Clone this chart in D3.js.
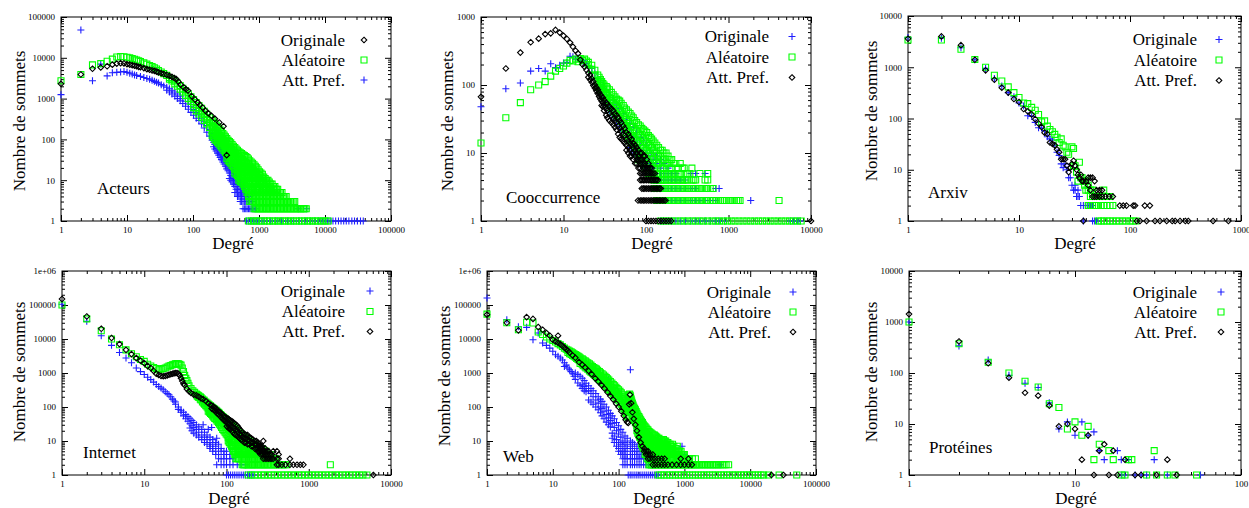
<!DOCTYPE html>
<html><head><meta charset="utf-8">
<script src="https://cdn.jsdelivr.net/npm/d3@7"></script>
<style>
body{margin:0;background:#fff}
svg{display:block}
text{font-family:"Liberation Serif","Times New Roman",serif;fill:#000}
</style></head>
<body><svg id="c" width="1249" height="508"></svg>
<script>
// ---------- labels ----------
const seriesNames = ["Originale", "Aléatoire", "Att. Pref."];
const datasetNames = ["Acteurs", "Cooccurrence", "Arxiv", "Internet", "Web", "Protéines"];
const xLabel = "Degré";
const yLabel = "Nombre de sommets";
const ticksX1 = [1, 10, 100, 1000, 10000, 100000];
const ticksY1 = [1, 10, 100, 1000, 10000, 100000];
const ticksX2 = [1, 10, 100, 1000, 10000];
const ticksY2 = [1, 10, 100, 1000];
const ticksX3 = [1, 10, 100, 1000];
const ticksY3 = [1, 10, 100, 1000, 10000];
const ticksX4 = [1, 10, 100, 1000, 10000];
const ticksY4 = [1, 10, 100, 1000, 10000, 100000, 1000000];
const ticksX5 = [1, 10, 100, 1000, 10000, 100000];
const ticksY5 = [1, 10, 100, 1000, 10000, 100000, 1000000];
const ticksX6 = [1, 10, 100];
const ticksY6 = [1, 10, 100, 1000, 10000];

// ---------- data: rows are [degree, count, count, ...]; "Un" lists = degrees with count 1 ----------
// Acteurs
const acteursOriginale = [[1,2300],[2,3900],[3,5400],[4,5800],[5,6200],[6,6800],[7,7200],[8,7400],[9,7300],[10,7000],[11,6800],[12,6600],[13,6400],[14,6200],[15,6000],[16,5900],[18,5600],[20,5300],[22,5100],[24,4900],[26,4800],[28,4600],[30,4400],[33,4200],[36,4000],[40,3800],[44,3600],[48,3400],[52,3200],[56,3000],[60,2600],[65,2200],[72,1900],[78,1700],[84,1570],[95,1150],[107,950],[118,800],[127,700],[140,600],[155,500],[170,440],[190,380],[215,320],[250,260],[290,210],[324,41]];
const acteursAleatoire = [[1,2750],[2,3900],[3,6700],[4,7200],[5,8200],[6,9300],[7,10500],[8,10800],[9,10600],[10,10300],[11,10000],[12,9600],[13,9200],[14,8800],[15,8400],[16,8100],[18,7500],[20,7000],[22,6500],[24,6100],[26,5700],[28,5300],[30,4900],[33,4500],[36,4100],[40,3700],[44,3300,3000],[48,3000,2700],[53,2700,2300],[58,2400,2000],[64,2100,1700],[70,1800,1450],[77,1550,1200],[85,1300,1000],[93,1100,850],[102,950,720,600],[112,800,600,500],[123,680,520,420],[135,580,440,350],[148,490,370,290],[162,410,310,240],[178,340,260,195],[195,290,215,160,125],[214,245,180,135,100],[235,205,150,110,85],[258,170,125,92,70],[283,140,105,78,58],[310,115,88,65,48],[340,95,74,55,40,30],[373,82,62,46,34,26],[410,68,52,38,28,21],[450,58,44,32,24,18,14],[495,50,38,28,21,16,12,10],[545,45,33,25,19,14,11,9],[600,40,29,22,17,13,10,8,7],[660,36,26,20,15,12,9,7,6,5],[725,30,22,17,13,10,8,6,5,4,3],[800,26,19,15,11,9,7,6,5,4,3],[880,22,16,13,10,8,6,5,4,3,2],[970,18,14,11,9,7,6,5,4,3,2],[1070,15,12,9,8,6,5,4,3,2],[1180,12,10,8,7,6,5,4,3,2],[1300,10,8,7,6,5,4,3,2],[1430,9,7,6,5,4,3,2],[1580,8,6,5,4,3,2],[1740,7,6,5,4,3,2],[1920,6,5,4,3,2],[2120,5,4,3,2],[2340,4,3,2],[2580,4,3,2],[2850,3,2],[3150,3,2],[3480,3,2],[3850,2],[4250,2],[4700,2],[5200,2],
  [204,265,195,148,112],[224,225,165,122,92],[246,188,138,100,78],[270,155,115,85,64],[296,128,96,72,53],[325,105,80,60,44,34],[356,88,68,50,37,28],[391,75,57,42,31,23],[430,63,48,35,26,19,15],[472,54,41,30,22,17,13],[520,47,35,26,20,15,11,9],[572,42,31,23,18,13,10,8],[630,38,27,21,16,12,9,7,6],[692,33,24,18,14,11,8,6,5,4],[762,28,20,16,12,9,7,6,5,4,3],[840,24,17,14,11,8,7,5,4,3,2],[925,20,15,12,9,7,6,5,4,3,2],[1020,16,13,10,8,7,5,4,3,2],[1125,14,11,9,7,6,5,4,3,2],[1240,11,9,7,6,5,4,3,2],[1365,10,8,6,5,4,3,2],[1505,8,7,6,5,4,3,2],[1660,7,6,5,4,3,2],[1830,6,5,4,3,2],[2020,5,4,3,2],[2230,5,4,3,2],[2460,4,3,2],[2710,3,2],[3000,3,2],[3300,3,2],[3650,2],[4050,2],[4470,2],[4950,2]];
const acteursAleatoireUn = [690,760,830,910,1000,1100,1200,1320,1450,1600,1750,1920,2100,2300,2550,2800,3050,3350,3700,4050,4450,4900,5400,5900,6500,7100,7800,8600,9400,10300,11200];
const acteursAttPref = [[1,1250],[2,48000],[3,2750],[4,7000],[5,3600],[6,4300],[7,4400],[8,4500],[9,4600],[10,4400],[11,4200],[12,4000],[13,3800],[14,3700],[16,3500],[18,3300],[20,3100],[22,3000],[24,2800],[26,2650],[28,2500],[30,2400],[33,2200],[36,2050],[40,1900,1600],[44,1750,1450],[48,1600,1300],[53,1450,1150],[58,1300,1000],[64,1150,880],[70,1000,760],[77,860,650],[85,740,550],[93,630,460],[102,540,390],[112,460,330],[123,400,290],[135,330,240],[148,270,190],[162,220,150],[178,175,120],[195,140,95],[214,110,75,58],[235,88,60,46],[258,70,48,36],[283,56,38,28],[310,44,30,22],[340,35,24,17],[373,28,19,13,10],[410,22,15,11,8],[450,16,11,8,6,5],[495,12,9,7,5,4],[545,9,7,5,4,3],[600,7,5,4,3,2],[660,5,4,3,2],[725,4,3,2],[800,3,2],[880,2],[3950,2],[5250,2],
  [205,125,85,66],[224,100,68,52],[246,80,54,41],[270,63,43,32],[296,50,34,25],[325,40,27,19],[356,32,21,15,11],[391,25,17,12,9],[430,19,13,10,7,5],[472,14,10,8,6,4],[520,11,8,6,5,4,3],[572,8,6,5,4,3,2],[630,6,5,4,3,2],[692,5,4,3,2],[762,3,2],[840,2]];
const acteursAttPrefUn = [650,700,750,810,870,940,1010,1150,1300,1500,1800,2200,2700,3300,4000,5000,6000,7000,8000,9000,10000,11000,12000,13200,14500,16000,17500,19200,21000,23000,25500,28000,31000,34500,38000];

// Cooccurrence
const coocOriginale = [[1,48],[2,88],[3,107],[4,160],[5,175],[6,160],[7,205],[8,180],[9,195],[10,210],[11,215],[12,265],[13,260],[14,240],[15,250],[16,230],[17,225],[18,210],[19,205],[20,190],[22,175,150],[24,150,125],[26,125,100],[28,110,85],[30,95,72],[33,82,60,50],[36,70,52,42],[40,60,45,35],[44,52,38,30],[48,45,32,25],[53,38,28,21],[58,32,24,18],[64,27,20,15,12],[70,24,17,13,10],[77,20,15,11,9],[85,17,13,10,8],[93,15,11,8,7,6],[102,13,10,8,6,5],[112,11,9,7,5],[122,10,8,6,5,4],[135,9,7,5,4,3,2],[150,8,6,5,4,3,2],[165,7,5,4,3,2],[185,6,5,4,3,2],[205,5,4,3,2],[230,5,4,3,2],[260,4,3,2],[300,4,3,2],[350,5,3,2],[400,5,3,2],[450,2],[520,5,2],[600,2],[700,3,2],[770,3],[1860,2]];
const coocOriginaleUn = [150,165,185,205,230,260,300,350,400,450,520,600,700,770,900,5600,6200,6900,7400];
const coocAleatoire = [[1,14],[2,33],[3,55],[4,85],[5,100],[6,112],[7,135],[8,160],[9,175],[10,190],[11,210],[12,230],[13,225],[14,240],[15,220],[16,245],[17,230],[18,240],[19,225],[20,215,200],[22,195,170],[24,165,140],[26,140,115],[28,120,100,85],[30,105,85,72],[33,95,75,60],[36,85,65,50],[40,72,55,42],[44,62,48,36],[48,58,42,32],[53,50,36,27],[58,43,31,23,18],[64,38,27,20,15],[70,33,24,17,13],[77,28,21,15,11],[85,25,18,13,10,8],[93,22,16,12,9,7],[102,20,14,11,8,6],[112,17,13,10,7,5],[122,15,11,8,6,5,4],[135,13,10,7,5,4,3,2],[150,11,9,6,5,4,3,2],[165,10,8,6,5,4,3,2],[185,9,7,5,4,3,2],[205,8,6,5,4,3,2],[230,7,5,4,3,2],[260,7,5,4,3,2],[290,6,4,3,2],[320,5,4,3,2],[360,6,4,3,2],[400,4,3,2],[450,5,3,2],[520,4,3,2],[560,5,4,3,2],[650,3,2],[750,2],[850,2],[950,2],[1100,2],[1250,2],[1380,2],[4100,2],
  [27,130,108,92],[29,112,92,78],[31,100,80,66],[34,90,70,55],[38,78,60,46],[42,67,51,39],[46,60,45,34],[50,54,39,29],[55,46,33,25,20],[61,40,29,21,16],[67,35,25,18,14],[73,30,22,16,12],[81,26,19,14,10,8],[89,23,17,12,9,7],[97,21,15,11,8,6],[107,18,13,10,7,5],[117,16,12,9,6,5],[128,14,10,8,6,4,3],[142,12,9,7,5,4,3,2],[157,11,8,6,5,4,3,2],[175,10,7,5,4,3,2],[195,8,6,5,4,3,2],[217,7,5,4,3,2],[245,6,5,4,3,2],[275,6,4,3,2],[305,5,4,3,2],[340,5,3,2],[380,4,3,2],[425,3,2],[480,3,2],[540,3,2],[600,3,2],[700,2],[800,2],[900,2],[1020,2],[1170,2],[1310,2]];
const coocAleatoireUn = [150,165,185,205,230,260,290,320,360,400,450,500,560,630,700,780,870,970,1080,1200,1340,1500,1670,1860,2080,2320,2580,2880,3200,3570,3980,4430,4940,5500,6130,6830,7600];
const coocAttPref = [[1,67],[2,175],[3,300],[4,425],[5,480],[6,560],[7,575],[8,645],[9,590],[10,530],[11,475],[12,420],[13,365],[14,320],[15,290],[16,235],[17,200],[18,185],[19,166],[20,150,130],[22,125,110],[24,100,90],[26,85,75],[28,72,62],[30,65,55,48],[33,55,45,36],[36,48,38,30],[40,42,32,26],[44,36,28,22],[48,30,23,17],[53,25,19,15],[58,20,16,13,11],[64,17,14,11,9],[70,14,12,10,8],[77,12,10,8,7],[80,2],[85,10,8,7,6,5,4,2],[93,9,7,6,5,4,3,2],[102,8,6,5,4,3,2],[112,6,5,4,3,2],[122,5,4,3,2],[133,4,3,2],[145,3,2],[158,2],[172,2],
  [21,140,120],[23,112,98],[25,92,82],[27,78,68],[29,68,58,50],[31,60,50,42],[34,52,42,33],[38,45,35,28],[42,38,30,24],[46,33,25,19],[50,28,21,16],[55,23,18,14],[61,19,15,12,10],[67,16,13,10,9],[74,13,11,9,7],[81,11,9,8,6],[89,10,8,7,5,4,3,2],[97,9,7,6,5,4,3,2],[107,7,6,5,4,3,2],[117,6,5,4,3,2],[128,5,4,3,2],[139,4,3,2],[151,3,2],[165,2]];
const coocAttPrefUn = [100,107,115,123,132,142,152,163,175,188,202,10000];

// Arxiv
const arxivOriginale = [[1,3800],[2,3700],[3,2400],[4,1400],[5,950],[6,600],[7,430],[8,320],[9,265],[10,200],[11,175],[12,113],[13,110],[14,84],[15,66],[16,65],[17,58],[18,44],[19,40],[20,38],[21,30],[22,22],[23,19],[24,13],[25,11],[26,13],[27,10],[28,7],[29,7],[30,5],[31,4],[32,5,4],[33,3],[34,4,3],[35,3],[36,2],[38,2,1],[40,2],[42,2],[44,2],[46,2,1],[48,1],[50,1]];
const arxivAleatoire = [[1,3400],[2,3400],[3,2250],[4,1420],[5,1000],[6,700],[7,540],[8,415],[9,320],[10,257],[11,200],[12,195],[13,165],[14,145],[15,120],[16,86],[17,90],[18,71],[19,61],[20,55],[21,49],[22,43],[23,34],[24,40],[25,30],[26,28],[27,22],[28,20],[30,28],[31,26,12],[32,12],[33,9],[34,6],[35,14],[36,7],[37,7],[38,6],[39,5],[40,6,4],[42,5,4,2],[44,4,3,2],[46,4,3,2],[48,3,2],[50,3,2],[52,3,2,1],[55,3,2,1],[58,4,3,2,1],[62,3,2,1],[66,3,2,1],[70,2,1],[75,1],[80,1],[86,1],[92,1],[100,1],[106,1],[113,1]];
const arxivAttPref = [[1,3600],[2,4000],[3,2700],[4,1400],[5,870],[6,570],[7,400],[8,320],[9,240],[10,210],[11,153],[12,138],[13,120],[14,97],[15,80],[16,68],[17,53],[18,50],[19,34],[20,32],[21,30],[22,25],[23,22],[24,16],[25,16],[26,16],[27,12],[28,9],[29,11],[30,13],[31,15],[32,12],[33,10],[34,8],[35,7],[36,8],[37,6],[38,6,1],[40,6],[42,7,5],[44,7,4],[46,7,3],[48,6,3],[50,4,3],[53,4,3],[56,4,3],[60,3],[65,3],[70,3],[81,2],[87,2],[93,2],[107,2],[111,2],[136,2],[151,2],[115,1],[123,1],[141,1],[168,1],[186,1],[214,1],[240,1],[255,1],[282,1],[315,1],[335,1],[560,1],[770,1]];

// Internet
const internetOriginale = [[1,105000],[2,33000],[3,12500],[4,6500],[5,4000],[6,2750],[7,2000],[8,1400],[9,1100],[10,900],[11,750],[12,640],[13,540],[14,460],[15,400],[16,360],[17,320],[18,280],[19,250],[20,230],[21,200],[22,170],[23,150],[24,140,120],[26,100,85],[28,80,70],[30,70,55],[32,60,45],[34,52,38],[36,45,32,24],[38,40,28,20],[40,35,25,17],[43,30,22,15],[46,26,18,13],[50,22,15,11],[52,30],[54,18,13,9],[58,15,11,8],[60,22],[63,13,9,7,6],[66,25],[68,11,8,6,5],[74,9,7,5,4],[76,12,2],[80,8,6,4,3],[86,6,5,3,2],[93,5,4,3,2],[100,5,4,3,2],[110,4,3,2],[120,3,2],[135,2],[150,2],[170,2]];
const internetOriginaleUn = [100,106,112,119,126,134,142,151,160,170,180,190,200,210];
const internetAleatoire = [[1,100000],[2,39000],[3,17500],[4,10000],[5,6800],[6,4800],[7,3700],[8,3000],[9,2500],[10,2200],[11,1800],[12,1600],[13,1450],[14,1350],[15,1250],[16,1300],[17,1350],[18,1400],[19,1500],[20,1600],[21,1650],[22,1750],[23,1800],[24,1850],[25,1900],[26,1850],[27,1800],[28,1700],[29,1400],[30,1100],[31,850],[32,700],[33,600],[34,500],[35,420],[37,350],[39,300],[41,270],[43,240],[45,220,200],[48,200,170],[51,170,140],[54,150,120],[58,130,100],[62,115,85,70],[66,100,75,60],[70,90,65,50],[75,80,55,42],[80,70,48,35],[85,60,40,28],[90,52,35,22],[96,45,30,18],[102,40,26,15],[108,35,22,12,9],[115,30,19,10,7],[122,26,16,9,6,5],[130,22,14,8,6,5,4,3],[140,19,12,8,6,5,4,3],[150,16,10,7,5,4,3],[160,14,9,7,5,4,3,2],[172,12,8,6,5,4,3,2],[185,10,8,6,5,4,3,2],[200,9,7,6,5,4,3,2],[215,8,6,5,4,3,2],[230,7,6,5,4,3,2],[250,6,5,4,3,2],[270,6,5,4,3,2],[290,5,4,3,2],[315,4,3,2],[340,4,3,2],[370,3,2],[400,3,2],[440,2],[490,2],[540,2],[1830,2],
  [44,230,210],[46,215,190],[49,190,160],[53,160,130],[56,140,110],[60,122,92,75],[64,108,80,65],[68,95,70,55],[72,85,60,46],[77,75,52,38],[82,65,44,31],[87,56,38,25],[93,48,32,20],[99,42,28,16],[105,37,24,13,10],[111,32,20,11,8],[118,28,17,10,7,6],[126,24,15,9,7,5,4],[135,20,13,8,6,5,4,3],[145,17,11,7,5,4,3],[155,15,10,7,5,4,3,2],[166,13,9,6,5,4,3,2],[178,11,8,6,5,4,3,2],[192,10,7,6,5,4,3,2],[207,8,7,5,4,3,2],[222,8,6,5,4,3,2],[240,7,5,4,3,2],[260,6,5,4,3,2],[280,5,4,3,2],[302,5,4,3,2],[327,4,3,2],[355,3,2],[385,3,2],[420,2],[465,2],[515,2]];
const internetAleatoireUn = [183,200,220,240,265,290,320,350,385,420,465,510,560,615,680,750,820,900,990,1090,1200,1320,1450,1600,1760,1930,2120,2330,2570,2830,3110,3420,3760,4140,4550,5100];
const internetAttPref = [[1,150000],[2,46000],[3,20000],[4,10700],[5,7100],[6,4800],[7,3600],[8,2750],[9,2300],[10,1950],[11,1600],[12,1400],[13,1150],[14,950],[15,880],[16,820],[17,800],[18,820],[19,850],[20,890],[21,920],[22,950],[23,980],[24,1000],[25,1000],[26,950],[27,850],[28,700],[29,580],[30,480],[31,440],[33,340],[35,290],[37,260],[40,230],[43,220],[46,200],[49,180],[52,170],[56,150],[60,130],[64,115],[69,104,85],[74,90,72],[80,75,60],[86,65,50],[92,55,42],[98,50,37],[105,45,32,25],[112,40,28,22],[120,36,25,18],[130,30,21,15],[140,25,18,13],[150,20,15,11],[165,16,12,9],[180,15,11,8],[200,12,9,7],[220,10,8,6],[240,9,7,6,5],[260,7,6,5,4],[280,10,5,4,3],[310,5,4,3],[340,4,3],[370,5,3],[410,5,3,2],[430,4,3,2],[470,2],[520,2],[590,3,2],[650,2],[720,2],[790,2],[860,2],[6100,1],
  [66,110,90],[72,95,78],[77,82,65],[83,70,55],[89,60,46],[95,52,40],[101,47,34,27],[108,42,30,23],[116,38,26,20],[125,33,23,16],[135,28,20,14],[145,22,16,12],[157,18,13,10],[172,15,12,9],[190,13,10,8],[210,11,9,7],[230,10,8,6],[250,8,7,5],[270,7,6,5,4],[295,6,5,4,3],[325,5,4,3],[355,4,3]];

// Web
const webOriginale = [[1,160000],[2,37000],[3,23000],[4,22000],[5,9500],[6,15000],[7,7600],[8,6500],[9,5400],[10,4350],[11,3450],[12,3100],[13,2750],[14,2400],[15,1550,2000],[16,1700],[17,1400],[18,1250],[19,1100],[20,950],[21,800],[22,1000,650],[24,510,900],[26,800,420],[28,700,450,350],[30,600,400,300],[32,500,350,280],[35,420,300,160],[38,350,250,140],[41,300,200,120],[45,250,160,100],[49,200,130,83],[53,170,100,68],[56,146,90,55],[60,120,75,45],[65,100,60,36],[70,640,80,48,30],[75,65,40,26],[80,55,33,17,12],[86,45,25,14,9],[93,35,20,11,7],[100,28,16,9,6,5],[108,22,13,8,5,4],[116,18,10,7,5,4,3,2],[125,14,9,6,5,4,3,2],[135,12,8,6,4,3,2],[151,1250,10,7,5,4,3,2],[162,9,6,4,3,2],[175,8,5,4,3,2],[190,7,5,4,3,2],[205,6,4,3,2],[220,5,4,3,2],[240,5,3,2],[260,4,3,2],[285,4,3,2],[310,3,2],[330,2],[510,9],[560,6],[920,7],[1000,4],[3500,2]];
const webOriginaleUn = [140,150,160,172,185,198,212,228,245,263,282,303,325,349,375,400];
const webAleatoire = [[1,54000],[2,30000],[3,18700],[4,31000],[5,29500],[6,16000],[7,13500],[8,11500],[9,10000],[10,9000],[11,8200],[12,7300],[13,6700],[14,6000],[15,5400],[16,5000],[17,4700,4000],[19,4200,3500],[21,3700,3100],[23,3300,2700],[25,3000,2400],[28,2600,2100,1800],[31,2300,1800,1500],[34,2000,1600,1300],[38,1700,1350,1050],[42,1450,1150,900],[46,1300,1000,780],[51,1100,850,650],[56,950,720,540],[62,800,600,450],[68,680,500,370],[75,560,410,300],[83,460,340,240],[91,380,280,195],[100,320,230,160],[110,260,180,120],[120,200,140,90],[128,160,110,70],[135,120,80,55],[140,100,70,50],[145,230,150,100],[150,220,140,90],[155,170,120,80],[162,130,90,60],[170,100,70,45],[180,83,55,35],[190,65,45,28,20],[203,52,35,22,15],[216,42,28,18,12],[230,35,23,15,10,7],[245,28,19,12,8,6],[262,24,16,10,7,5,4],[280,21,14,9,6,5,4,3],[300,18,12,8,6,5,4,3,2],[325,16,11,8,6,5,4,3,2],[350,15,10,7,6,5,4,3,2],[380,13,9,7,5,4,3,2],[410,12,9,7,5,4,3,2],[445,11,8,6,5,4,3,2],[480,11,8,6,5,4,3,2],[520,10,8,6,5,4,3,2],[560,9,7,6,5,4,3,2],[610,8,7,6,5,4,3,2],[660,8,6,5,4,3,2],[720,6,5,4,3,2],[780,7,5,4,3,2],[850,5,4,3,2],[930,4,3,2],[1000,4,3,2],[1100,3,2],[1200,3,2],[1320,3,2],[1470,3,2],[1600,2],[1800,2],[2000,2],[2250,2],[2500,2],[2800,2],[3100,2],[3500,2],[4000,2],[4700,2],
  [18,4400,3700],[20,3900,3300],[22,3500,2900],[24,3150,2550],[26,2800,2250,1900],[29,2450,1950,1650],[32,2150,1700,1400],[36,1850,1450,1150],[40,1550,1250,980],[44,1380,1080,840],[48,1200,920,720],[53,1020,780,600],[59,870,660,500],[65,740,550,410],[71,620,450,330],[79,510,370,270],[87,420,310,215],[95,350,250,175],[105,290,205,140],[115,230,160,105],[124,180,125,80],[131,140,95,62],[138,110,75,52],[143,160,110,75],[147,240,160,110],[152,200,130,85],[158,150,105,70],[166,115,80,52],[175,92,62,40],[185,74,50,32],[196,58,40,25,17],[209,47,32,20,13],[223,38,25,16,11,8],[237,31,21,14,9,6],[253,26,17,11,8,6,4],[271,22,15,10,7,5,4,3],[290,19,13,9,7,5,4,3,2],[312,17,12,8,6,5,4,3,2],[337,15,10,7,6,5,4,3,2],[365,14,10,7,5,4,3,2],[395,12,9,6,5,4,3,2],[427,11,8,6,5,4,3,2],[462,10,8,6,5,4,3,2],[500,10,7,6,5,4,3,2],[540,9,7,5,4,3,2],[585,8,6,5,4,3,2],[635,7,6,5,4,3,2],[690,7,5,4,3,2],[750,6,5,4,3,2],[815,5,4,3,2],[890,5,4,3,2],[965,4,3,2],[1050,3,2],[1150,3,2],[1260,2],[1400,2],[1530,2],[1700,2],[1900,2],[2120,2],[2370,2],[2650,2],[2950,2],[3300,2],[3750,2],[4300,2]];
const webAleatoireUn = [400,440,490,540,600,660,730,810,890,990,1090,1200,1330,1470,1620,1790,1980,2190,2420,2670,2950,3260,3600,3980,4400,4860,5370,5930,6550,7240,8000,8840,9770,10800,11900,13200,14600,16000,19000,27500,51000];
const webAttPref = [[1,52000],[2,30000],[3,18000],[4,44000],[5,39000],[6,22500],[7,18700],[8,15000],[9,12500],[10,9500],[11,8500],[12,12500,7800],[13,7000],[14,6300],[15,5600],[16,5000],[17,4500],[18,4000],[20,3300],[22,2800],[25,2100],[28,1750],[31,1450],[35,1150],[39,920],[44,700],[49,560],[55,440],[61,350],[68,270],[75,210],[83,165],[92,125],[100,100],[110,75],[120,55],[128,42],[135,36],[140,34],[145,120],[149,230],[155,130],[162,70],[170,45],[180,30],[190,20],[203,13],[216,9],[230,7],[245,6,5],[262,5,4],[280,5,4,3],[300,4,3],[330,4,3,2],[360,3,2],[400,3,2],[450,3,2],[500,3,2],[560,2],[650,2],[760,2],[880,3,2],[1000,2],[1150,3,2],[1300,2],[21000,1],[32000,1]];

// Protéines
const protOriginale = [[1,1000],[2,340],[3,180],[4,90],[5,63],[6,52],[7,26],[8,8],[9,11],[10,6],[11,11],[12,6],[13,7],[14,3],[15,2],[18,3],[19,2,1],[20,1],[21,2],[23,1],[25,1],[27,1],[30,2],[36,1],[57,1]];
const protAleatoire = [[1,1000],[2,375],[3,163],[4,100],[5,69],[6,53],[7,25],[8,21],[9,8],[10,11],[11,6],[12,9],[13,2],[14,4],[16,3],[17,2],[19,1],[20,1],[21,2],[22,2],[27,1],[30,3],[31,1],[36,1],[40,1],[54,1]];
const protAttPref = [[1,1430],[2,415],[3,155],[4,81],[5,41],[6,36],[7,23],[8,9],[9,10],[10,8],[11,2],[12,6],[13,1],[14,3],[15,4],[16,1],[17,3],[18,1],[20,2],[23,1],[25,1],[31,1],[36,2],[41,1]];

// ---------- helpers ----------
function expand(rows, ones) {
  const pts = [];
  rows.forEach(r => { for (let i = 1; i < r.length; i++) pts.push([r[0], r[i]]); });
  (ones || []).forEach(d => pts.push([d, 1]));
  return pts;
}
const STY = {
  plus: {color: "#1f1fff"},
  square: {color: "#00ff00"},
  diamond: {color: "#000000"}
};
function symPath(t, px, py) {
  if (t === "plus") return `M${px-3.5},${py}H${px+3.5}M${px},${py-3.5}V${py+3.5}`;
  if (t === "square") return `M${px-3},${py-3}H${px+3}V${py+3}H${px-3}Z`;
  return `M${px},${py-2.8}L${px+2.8},${py}L${px},${py+2.8}L${px-2.8},${py}Z`;
}

const panels = [
  {name: datasetNames[0], l:61, r:391, t:17, b:221, xt:ticksX1, yt:ticksY1,
   series:[{data:expand(acteursAttPref, acteursAttPrefUn), sym:"plus", leg:2},
           {data:expand(acteursAleatoire, acteursAleatoireUn), sym:"square", leg:1},
           {data:expand(acteursOriginale), sym:"diamond", leg:0}],
   legR:345, legM:364, legY:[45.5,65.5,85.5], nameX:97, nameY:194, ylx:25, yly:121, xlx:233, xly:249},
  {name: datasetNames[1], l:481, r:811, t:17, b:221, xt:ticksX2, yt:ticksY2,
   series:[{data:expand(coocOriginale, coocOriginaleUn), sym:"plus", leg:0},
           {data:expand(coocAleatoire, coocAleatoireUn), sym:"square", leg:1},
           {data:expand(coocAttPref, coocAttPrefUn), sym:"diamond", leg:2}],
   legR:769, legM:792, legY:[42,62.5,83], nameX:506, nameY:203, ylx:453, yly:121, xlx:652, xly:249},
  {name: datasetNames[2], l:908, r:1241, t:16, b:221, xt:ticksX3, yt:ticksY3,
   series:[{data:expand(arxivOriginale), sym:"plus", leg:0},
           {data:expand(arxivAleatoire), sym:"square", leg:1},
           {data:expand(arxivAttPref), sym:"diamond", leg:2}],
   legR:1197, legM:1219, legY:[45,65.5,86], nameX:928, nameY:198, ylx:877, yly:111, xlx:1075, xly:249},
  {name: datasetNames[3], l:62, r:391, t:271, b:475, xt:ticksX4, yt:ticksY4,
   series:[{data:expand(internetOriginale, internetOriginaleUn), sym:"plus", leg:0},
           {data:expand(internetAleatoire, internetAleatoireUn), sym:"square", leg:1},
           {data:expand(internetAttPref), sym:"diamond", leg:2}],
   legR:345, legM:370, legY:[296.5,317,337], nameX:83, nameY:458, ylx:25, yly:372, xlx:229, xly:504},
  {name: datasetNames[4], l:487, r:816, t:271, b:475, xt:ticksX5, yt:ticksY5,
   series:[{data:expand(webOriginale, webOriginaleUn), sym:"plus", leg:0},
           {data:expand(webAleatoire, webAleatoireUn), sym:"square", leg:1},
           {data:expand(webAttPref), sym:"diamond", leg:2}],
   legR:771, legM:793, legY:[297.5,317.5,337.5], nameX:503, nameY:462, ylx:450, yly:376, xlx:654, xly:504},
  {name: datasetNames[5], l:909, r:1241, t:271, b:475, xt:ticksX6, yt:ticksY6,
   series:[{data:expand(protOriginale), sym:"plus", leg:0},
           {data:expand(protAleatoire), sym:"square", leg:1},
           {data:expand(protAttPref), sym:"diamond", leg:2}],
   legR:1197, legM:1221, legY:[297.5,317.5,337.5], nameX:929, nameY:453, ylx:877, yly:372, xlx:1076, xly:504}
];

const svg = d3.select("#c");
const fmt = v => v >= 1e6 ? "1e+06" : d3.format("d")(v);

function minors(ticks) {
  const out = [];
  for (let i = 0; i < ticks.length - 1; i++)
    for (let m = 2; m <= 9; m++) out.push(ticks[i] * m);
  return out;
}

panels.forEach(p => {
  const g = svg.append("g");
  const xd = [p.xt[0], p.xt[p.xt.length-1]];
  const yd = [p.yt[0], p.yt[p.yt.length-1]];
  const x = d3.scaleLog().domain(xd).range([p.l, p.r]);
  const y = d3.scaleLog().domain(yd).range([p.b, p.t]);

  const addAxis = (axis, tx, ty) => {
    const a = g.append("g").attr("transform", `translate(${tx},${ty})`).call(axis);
    a.select(".domain").remove();
    a.selectAll("line").attr("stroke", "#000").attr("stroke-width", 1);
    a.selectAll("text").attr("font-family", '"Liberation Serif",serif').attr("font-size", 9).attr("fill", "#000");
    return a;
  };
  addAxis(d3.axisBottom(x).tickValues(p.xt).tickSize(-6).tickPadding(6).tickFormat(fmt), 0, p.b);
  addAxis(d3.axisBottom(x).tickValues(minors(p.xt)).tickSize(-3).tickFormat(""), 0, p.b);
  addAxis(d3.axisTop(x).tickValues(p.xt).tickSize(-6).tickFormat(""), 0, p.t);
  addAxis(d3.axisTop(x).tickValues(minors(p.xt)).tickSize(-3).tickFormat(""), 0, p.t);
  addAxis(d3.axisLeft(y).tickValues(p.yt).tickSize(-6).tickPadding(6).tickFormat(fmt), p.l, 0);
  addAxis(d3.axisLeft(y).tickValues(minors(p.yt)).tickSize(-3).tickFormat(""), p.l, 0);
  addAxis(d3.axisRight(y).tickValues(p.yt).tickSize(-6).tickFormat(""), p.r, 0);
  addAxis(d3.axisRight(y).tickValues(minors(p.yt)).tickSize(-3).tickFormat(""), p.r, 0);

  g.append("rect").attr("x", p.l).attr("y", p.t).attr("width", p.r - p.l).attr("height", p.b - p.t)
    .attr("fill", "none").attr("stroke", "#000").attr("stroke-width", 1);

  p.series.forEach(s => {
    g.append("g").selectAll("path").data(s.data).join("path")
      .attr("d", d => symPath(s.sym, x(d[0]), y(d[1])))
      .attr("fill", "none").attr("stroke", STY[s.sym].color).attr("stroke-width", 1.1);
  });

  p.series.forEach(s => {
    const ly = p.legY[s.leg];
    g.append("text").attr("x", p.legR).attr("y", ly).attr("text-anchor", "end")
      .attr("font-size", 17).text(seriesNames[s.leg]);
    g.append("path").attr("d", symPath(s.sym, p.legM, ly - 5.5))
      .attr("fill", "none").attr("stroke", STY[s.sym].color).attr("stroke-width", 1.1);
  });

  g.append("text").attr("x", p.nameX).attr("y", p.nameY).attr("font-size", 17).text(p.name);
  g.append("text").attr("x", p.xlx).attr("y", p.xly).attr("text-anchor", "middle").attr("font-size", 17).text(xLabel);
  g.append("text").attr("transform", `translate(${p.ylx},${p.yly}) rotate(-90)`)
    .attr("text-anchor", "middle").attr("font-size", 17).text(yLabel);
});
</script>
</body></html>
